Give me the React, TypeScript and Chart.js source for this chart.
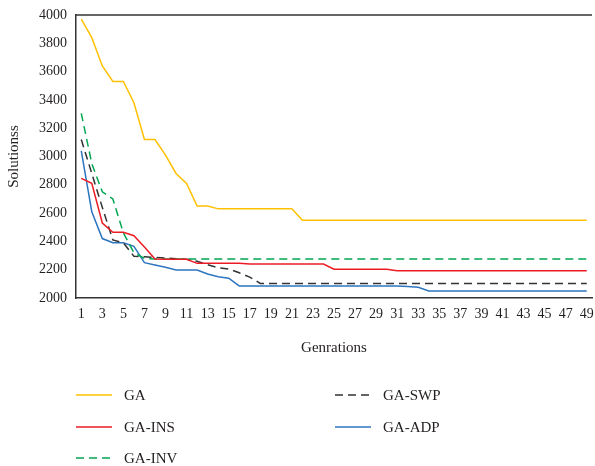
import React, { useEffect, useRef } from "react";
import { Chart, registerables } from "chart.js";

Chart.register(...registerables);

const generations = [
  "1", "2", "3", "4", "5", "6", "7", "8", "9", "10",
  "11", "12", "13", "14", "15", "16", "17", "18", "19", "20",
  "21", "22", "23", "24", "25", "26", "27", "28", "29", "30",
  "31", "32", "33", "34", "35", "36", "37", "38", "39", "40",
  "41", "42", "43", "44", "45", "46", "47", "48", "49",
];

const gaValues = [
  3970, 3840, 3640, 3530, 3530, 3380, 3120, 3120, 3010, 2880,
  2810, 2650, 2650, 2630, 2630, 2630, 2630, 2630, 2630, 2630,
  2630, 2550, 2550, 2550, 2550, 2550, 2550, 2550, 2550, 2550,
  2550, 2550, 2550, 2550, 2550, 2550, 2550, 2550, 2550, 2550,
  2550, 2550, 2550, 2550, 2550, 2550, 2550, 2550, 2550,
];

const gaInsValues = [
  2845, 2810, 2530, 2465, 2465, 2440, 2360, 2275, 2273, 2273,
  2273, 2245, 2245, 2245, 2245, 2245, 2240, 2240, 2240, 2240,
  2240, 2240, 2240, 2240, 2203, 2203, 2203, 2203, 2203, 2203,
  2193, 2193, 2193, 2193, 2193, 2193, 2193, 2193, 2193, 2193,
  2193, 2193, 2193, 2193, 2193, 2193, 2193, 2193, 2193,
];

const gaInvValues = [
  3305, 2950, 2750, 2700, 2460, 2320, 2280, 2275, 2275, 2275,
  2275, 2275, 2275, 2275, 2275, 2275, 2275, 2275, 2275, 2275,
  2275, 2275, 2275, 2275, 2275, 2275, 2275, 2275, 2275, 2275,
  2275, 2275, 2275, 2275, 2275, 2275, 2275, 2275, 2275, 2275,
  2275, 2275, 2275, 2275, 2275, 2275, 2275, 2275, 2275,
];

const gaSwpValues = [
  3120, 2880, 2640, 2410, 2390, 2295, 2292, 2287, 2283, 2278,
  2273, 2260, 2235, 2213, 2205, 2178, 2148, 2103, 2103, 2103,
  2103, 2103, 2103, 2103, 2103, 2103, 2103, 2103, 2103, 2103,
  2103, 2103, 2103, 2103, 2103, 2103, 2103, 2103, 2103, 2103,
  2103, 2103, 2103, 2103, 2103, 2103, 2103, 2103, 2103,
];

const gaAdpValues = [
  3040, 2610, 2420, 2390, 2390, 2365, 2250, 2233, 2217, 2198,
  2198, 2198, 2170, 2150, 2140, 2085, 2085, 2085, 2085, 2085,
  2085, 2085, 2085, 2085, 2085, 2085, 2085, 2085, 2085, 2085,
  2085, 2081, 2076, 2050, 2050, 2050, 2050, 2050, 2050, 2050,
  2050, 2050, 2050, 2050, 2050, 2050, 2050, 2050, 2050,
];

const seriesNames = ["GA", "GA-INS", "GA-INV", "GA-SWP", "GA-ADP"];
const seriesColors = ["#FFC000", "#ED1C24", "#00A651", "#333333", "#2E75C0"];
const seriesDashes: number[][] = [[], [], [8, 5], [8, 5], []];

const FONT = "'Liberation Serif', 'Times New Roman', serif";
const TEXT = "#231F20";

const framePlugin = {
  id: "frameTop",
  afterDatasetsDraw(chart: any) {
    const { ctx, chartArea } = chart;
    ctx.save();
    ctx.strokeStyle = "#333333";
    ctx.lineWidth = 1.5;
    ctx.beginPath();
    ctx.moveTo(chartArea.left, chartArea.top);
    ctx.lineTo(chartArea.right, chartArea.top);
    ctx.stroke();
    ctx.restore();
  },
};

const legendPlugin = {
  id: "columnLegend",
  afterDraw(chart: any) {
    const { ctx } = chart;
    const slots = [
      [76, 395],
      [76, 427],
      [76, 458],
      [335, 395],
      [335, 427],
    ];
    ctx.save();
    chart.data.datasets.forEach((ds: any, i: number) => {
      const [x, y] = slots[i];
      ctx.strokeStyle = ds.borderColor;
      ctx.lineWidth = 1.5;
      ctx.setLineDash(ds.borderDash || []);
      ctx.beginPath();
      ctx.moveTo(x, y);
      ctx.lineTo(x + 36, y);
      ctx.stroke();
      ctx.setLineDash([]);
      ctx.fillStyle = TEXT;
      ctx.font = `15px ${FONT}`;
      ctx.textAlign = "left";
      ctx.textBaseline = "middle";
      ctx.fillText(ds.label, x + 48, y + 1);
    });
    ctx.restore();
  },
};

export default function App() {
  const canvasRef = useRef<HTMLCanvasElement | null>(null);

  useEffect(() => {
    if (!canvasRef.current) return;
    const values = [gaValues, gaInsValues, gaInvValues, gaSwpValues, gaAdpValues];
    const chart = new Chart(canvasRef.current, {
      type: "line",
      data: {
        labels: generations,
        datasets: seriesNames.map((name, i) => ({
          label: name,
          data: values[i],
          borderColor: seriesColors[i],
          backgroundColor: seriesColors[i],
          borderWidth: 1.5,
          borderDash: seriesDashes[i],
          pointRadius: 0,
          tension: 0,
          fill: false,
        })),
      },
      options: {
        animation: false,
        responsive: false,
        maintainAspectRatio: false,
        layout: { padding: { top: 15, left: 0, right: 3, bottom: 106 } },
        plugins: {
          legend: { display: false },
          tooltip: { enabled: false },
        },
        scales: {
          x: {
            type: "category",
            offset: true,
            grid: { display: false, drawTicks: false },
            border: { display: true, color: "#333333", width: 1.5 },
            ticks: {
              autoSkip: false,
              maxRotation: 0,
              minRotation: 0,
              padding: 8,
              color: TEXT,
              font: { family: FONT, size: 14 },
              callback: (_v: any, idx: number) => (idx % 2 === 0 ? generations[idx] : ""),
            },
            title: {
              display: true,
              text: "Genrations",
              color: TEXT,
              font: { family: FONT, size: 15 },
              padding: { top: 0, bottom: 3 },
            },
            afterFit: (scale: any) => {
              scale.height = 62;
              scale.paddingLeft = 0;
              scale.paddingRight = 0;
            },
          },
          y: {
            min: 2000,
            max: 4000,
            grid: { display: false, drawTicks: false },
            border: { display: true, color: "#333333", width: 1.5 },
            ticks: {
              stepSize: 200,
              padding: 9,
              color: TEXT,
              font: { family: FONT, size: 14 },
              callback: (v: any) => String(v),
            },
            title: {
              display: true,
              text: "Solutionss",
              color: TEXT,
              font: { family: FONT, size: 15 },
              padding: { top: 5, bottom: 0 },
            },
            afterFit: (scale: any) => {
              scale.width = 76;
              scale.paddingTop = 0;
              scale.paddingBottom = 0;
            },
          },
        },
      },
      plugins: [framePlugin, legendPlugin],
    });
    return () => chart.destroy();
  }, []);

  return (
    <div style={{ position: "absolute", left: 0, top: 0, width: 595, height: 466, background: "#fff" }}>
      <canvas ref={canvasRef} width={595} height={466} style={{ width: 595, height: 466 }} />
    </div>
  );
}
